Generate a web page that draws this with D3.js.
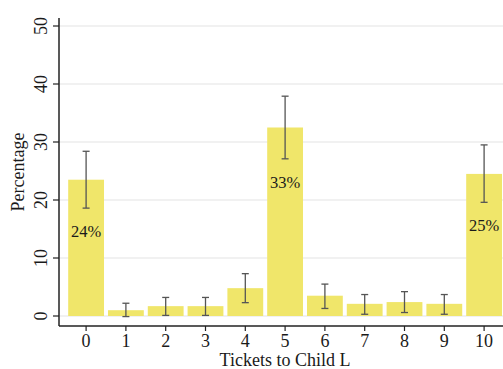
<!DOCTYPE html>
<html>
<head>
<meta charset="utf-8">
<script src="https://cdn.jsdelivr.net/npm/d3@7"></script>
<style>
  html, body { margin: 0; padding: 0; background: #fff; }
  svg { display: block; }
  text { font-family: "Liberation Serif", "Times New Roman", serif; fill: #1a1a1a; }
</style>
</head>
<body>
<svg id="chart" width="503" height="369"></svg>
<script>
// Share of participants by number of tickets given to Child L
const categories = [0, 1, 2, 3, 4, 5, 6, 7, 8, 9, 10];
const means      = [23.5, 1.0, 1.7, 1.7, 4.8, 32.5, 3.5, 2.1, 2.4, 2.1, 24.5];
const ciLow      = [18.6, -0.1, 0.1, 0.1, 2.3, 27.1, 1.3, 0.3, 0.6, 0.3, 19.6];
const ciHigh     = [28.4, 2.2, 3.2, 3.2, 7.3, 37.9, 5.5, 3.7, 4.2, 3.7, 29.5];
const barLabels  = ["24%", "", "", "", "", "33%", "", "", "", "", "25%"];
const yTicks     = [0, 10, 20, 30, 40, 50];

const svg = d3.select("#chart");
const axisX = 59, axisY = 326;

const x = d3.scaleBand()
  .domain(categories)
  .range([66.2, 504])
  .paddingInner(0.1)
  .paddingOuter(0.05);

const y = d3.scaleLinear().domain([0, 50]).range([316, 26]);
const cx = d => x(d) + x.bandwidth() / 2;

// horizontal grid
svg.append("g").selectAll("line").data(yTicks).join("line")
  .attr("x1", axisX).attr("x2", 503)
  .attr("y1", d => y(d)).attr("y2", d => y(d))
  .attr("stroke", "#e3e3e3").attr("stroke-width", 1);

// bars
svg.append("g").selectAll("rect").data(categories).join("rect")
  .attr("x", d => x(d))
  .attr("width", x.bandwidth())
  .attr("y", (d, i) => y(means[i]))
  .attr("height", (d, i) => y(0) - y(means[i]))
  .attr("fill", "#f0e66a");

// confidence intervals
const cap = 3.5;
const eb = svg.append("g").attr("stroke", "#555").attr("stroke-width", 1.3).attr("fill", "none");
categories.forEach((c, i) => {
  eb.append("line").attr("x1", cx(c)).attr("x2", cx(c)).attr("y1", y(ciLow[i])).attr("y2", y(ciHigh[i]));
  eb.append("line").attr("x1", cx(c) - cap).attr("x2", cx(c) + cap).attr("y1", y(ciLow[i])).attr("y2", y(ciLow[i]));
  eb.append("line").attr("x1", cx(c) - cap).attr("x2", cx(c) + cap).attr("y1", y(ciHigh[i])).attr("y2", y(ciHigh[i]));
});

// value labels inside the tall bars, just below the interval
svg.append("g").selectAll("text").data(categories.filter((c, i) => barLabels[i])).join("text")
  .attr("x", d => cx(d))
  .attr("y", d => y(ciLow[categories.indexOf(d)] - 4) + 5.5)
  .attr("text-anchor", "middle")
  .attr("font-size", 16.5)
  .text(d => barLabels[categories.indexOf(d)]);

// y axis
const ya = svg.append("g");
ya.append("line").attr("x1", axisX).attr("x2", axisX).attr("y1", 18).attr("y2", axisY)
  .attr("stroke", "#222").attr("stroke-width", 1.5);
ya.selectAll("line.tick").data(yTicks).join("line").attr("class", "tick")
  .attr("x1", axisX - 6).attr("x2", axisX)
  .attr("y1", d => y(d)).attr("y2", d => y(d))
  .attr("stroke", "#222").attr("stroke-width", 1.2);
ya.selectAll("text").data(yTicks).join("text")
  .attr("transform", d => `translate(47,${y(d)}) rotate(-90)`)
  .attr("text-anchor", "middle")
  .attr("font-size", 18)
  .text(d => d);

// x axis
const xa = svg.append("g");
xa.append("line").attr("x1", axisX).attr("x2", 503).attr("y1", axisY).attr("y2", axisY)
  .attr("stroke", "#222").attr("stroke-width", 1.5);
xa.selectAll("line.tick").data(categories).join("line").attr("class", "tick")
  .attr("x1", d => cx(d)).attr("x2", d => cx(d))
  .attr("y1", axisY).attr("y2", axisY + 5)
  .attr("stroke", "#222").attr("stroke-width", 1.2);
xa.selectAll("text").data(categories).join("text")
  .attr("x", d => cx(d))
  .attr("y", 347)
  .attr("text-anchor", "middle")
  .attr("font-size", 18)
  .text(d => d);

// axis titles
svg.append("text").attr("x", 285).attr("y", 366).attr("text-anchor", "middle")
  .attr("font-size", 18).text("Tickets to Child L");
svg.append("text").attr("transform", "translate(24,172) rotate(-90)")
  .attr("text-anchor", "middle").attr("font-size", 18).text("Percentage");
</script>
</body>
</html>
